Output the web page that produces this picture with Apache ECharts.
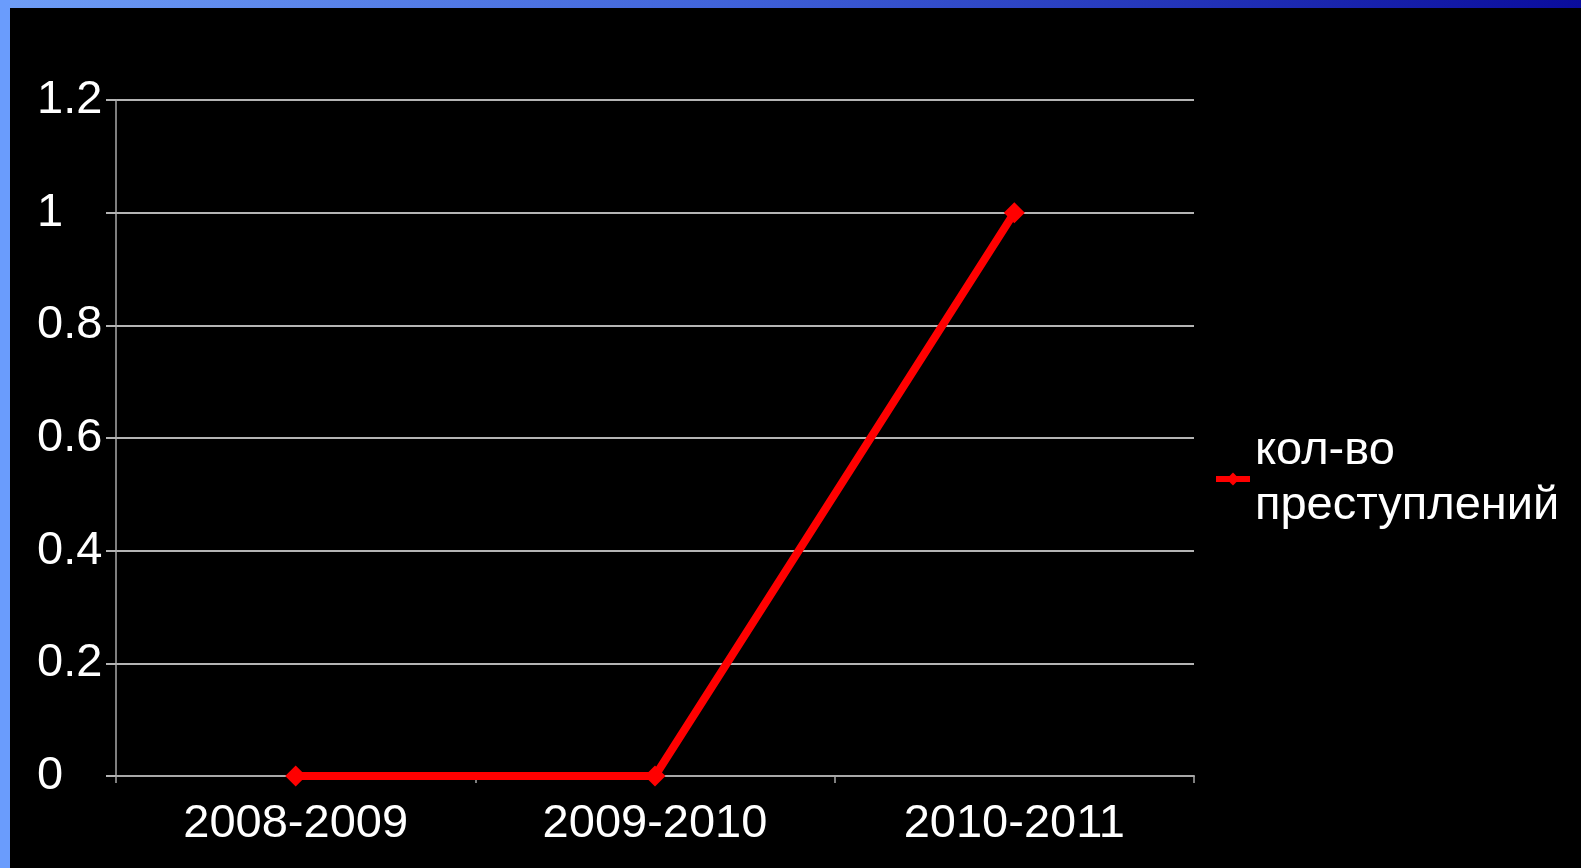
<!DOCTYPE html>
<html>
<head>
<meta charset="utf-8">
<script src="https://cdn.jsdelivr.net/npm/echarts@6/dist/echarts.min.js"></script>
<style>
  html, body { margin: 0; padding: 0; background: #000; }
  #chart { width: 1581px; height: 868px; }
</style>
</head>
<body>
<div id="chart"></div>
<script>
const categories = ['2008-2009', '2009-2010', '2010-2011'];
const crimeCounts = [0, 0, 1];
const seriesName = 'кол-во преступлений';
const legendLines = ['кол-во', 'преступлений'];

const FONT = "'Liberation Sans', Arial, sans-serif";
const chart = echarts.init(document.getElementById('chart'), null, { renderer: 'canvas' });

chart.setOption({
  backgroundColor: '#000000',
  animation: false,
  graphic: [
    {
      type: 'rect', left: 0, top: 0, z: 100,
      shape: { width: 1581, height: 8 },
      style: {
        fill: new echarts.graphic.LinearGradient(0, 0, 1, 0, [
          { offset: 0, color: '#6f9ef6' },
          { offset: 0.45, color: '#4164da' },
          { offset: 1, color: '#0a0c9c' }
        ])
      }
    },
    {
      type: 'rect', left: 0, top: 0, z: 100,
      shape: { width: 10, height: 868 },
      style: { fill: '#6a9cfc' }
    }
  ],
  grid: { left: 116, right: 387, top: 100, bottom: 92, containLabel: false },
  legend: {
    orient: 'vertical',
    left: 1213,
    top: 424,
    padding: 0,
    itemWidth: 34,
    itemHeight: 16,
    itemGap: 0,
    lineStyle: { width: 6 },
    textStyle: { color: '#ffffff', fontSize: 47, fontFamily: FONT, lineHeight: 55 },
    formatter: function () { return legendLines.join('\n'); },
    data: [seriesName]
  },
  xAxis: {
    type: 'category',
    data: categories,
    boundaryGap: true,
    axisLine: { show: true, lineStyle: { color: '#a8a8a8', width: 2 } },
    axisTick: { show: true, length: 7, lineStyle: { color: '#a8a8a8', width: 1.5 } },
    axisLabel: { color: '#ffffff', fontSize: 47, fontFamily: FONT, margin: 25 },
    splitLine: { show: false }
  },
  yAxis: {
    type: 'value',
    min: 0,
    max: 1.2,
    interval: 0.2,
    axisLine: { show: true, lineStyle: { color: '#a8a8a8', width: 1.5 } },
    axisTick: { show: true, length: 10, lineStyle: { color: '#b4b4b4', width: 2 } },
    axisLabel: { color: '#ffffff', fontSize: 47, fontFamily: FONT, margin: 79, align: 'left', padding: [8, 0, 0, 0] },
    splitLine: { show: true, lineStyle: { color: '#b4b4b4', width: 2 } }
  },
  series: [
    {
      name: seriesName,
      type: 'line',
      data: crimeCounts,
      symbol: 'diamond',
      symbolSize: 21,
      lineStyle: { color: '#ff0000', width: 8 },
      itemStyle: { color: '#ff0000' },
      z: 5
    }
  ]
});
</script>
</body>
</html>
